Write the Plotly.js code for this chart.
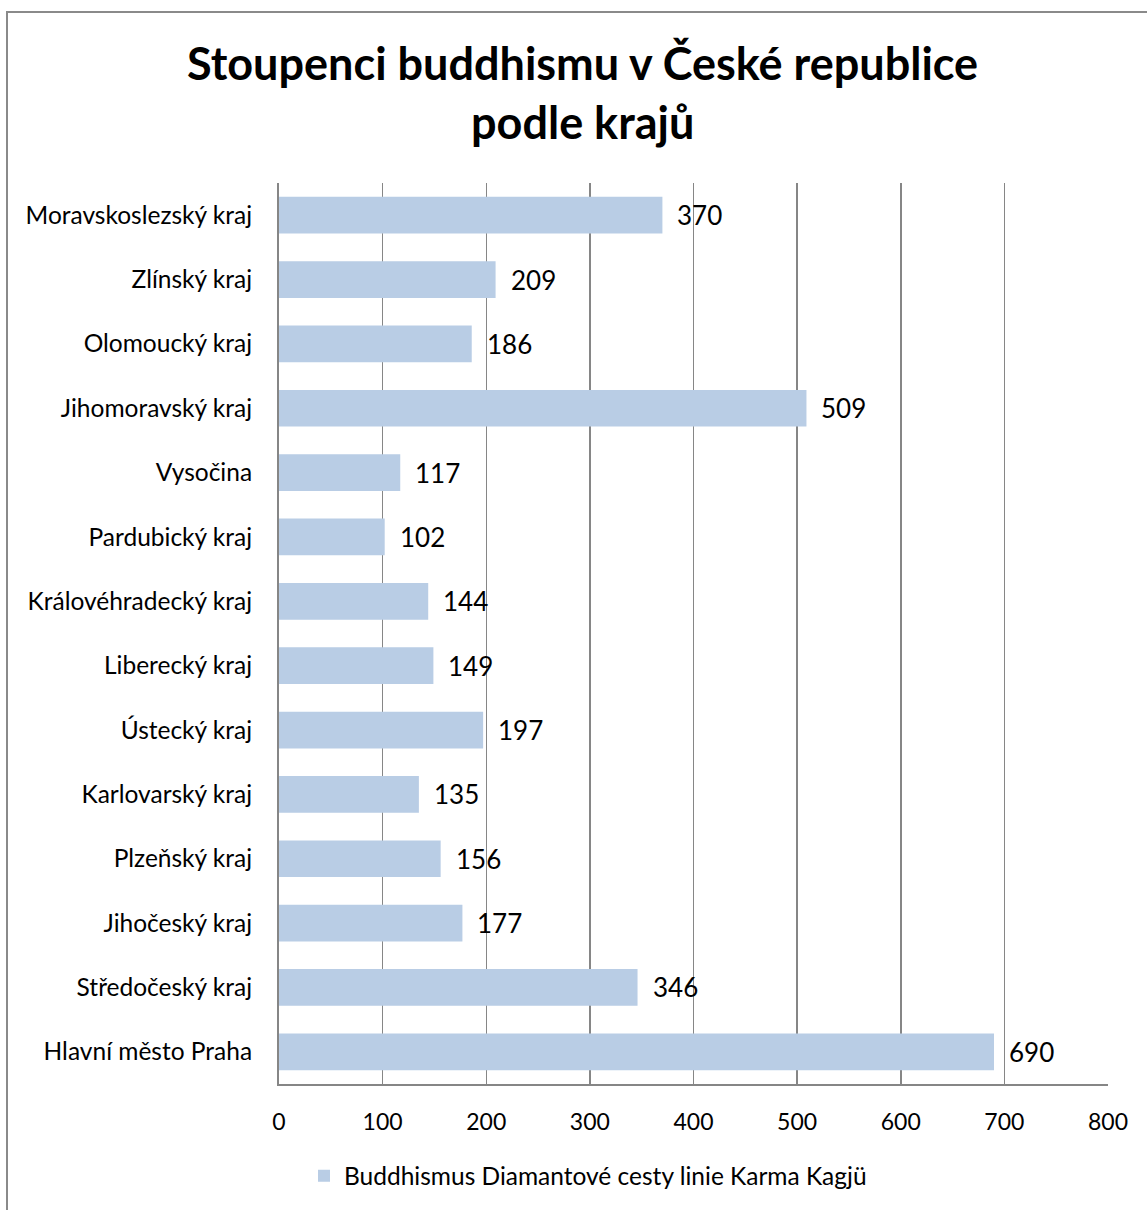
<!DOCTYPE html>
<html>
<head>
<meta charset="utf-8">
<script src="https://cdn.plot.ly/plotly-3.0.1.min.js"></script>
<style>
html,body{margin:0;padding:0;background:#fff;}
#frame{position:absolute;left:6px;top:11px;width:1200px;height:1300px;border-left:2px solid #8a8a8a;border-top:2px solid #8a8a8a;}
#chart{position:absolute;left:0;top:0;width:1147px;height:1210px;}
</style>
</head>
<body>
<div id="frame"></div>
<div id="chart"></div>
<script>
const regions = ["Moravskoslezský kraj","Zlínský kraj","Olomoucký kraj","Jihomoravský kraj","Vysočina","Pardubický kraj","Královéhradecký kraj","Liberecký kraj","Ústecký kraj","Karlovarský kraj","Plzeňský kraj","Jihočeský kraj","Středočeský kraj","Hlavní město Praha"];
const followers = [370,209,186,509,117,102,144,149,197,135,156,177,346,690];
const seriesName = "Buddhismus Diamantové cesty linie Karma Kagjü";
const titleLines = ["Stoupenci buddhismu v České republice","podle krajů"];
const xTicks = [0,100,200,300,400,500,600,700,800];

const FONT = "Lato, 'Open Sans', sans-serif";

const trace = {
  type: 'bar',
  orientation: 'h',
  y: regions,
  x: followers,
  name: seriesName,
  marker: {color: '#B9CDE5'},
  width: 0.57,
  showlegend: true,
  hoverinfo: 'x+y'
};

const annotations = regions.map((r,i)=>({
  x: followers[i], y: r, xref:'x', yref:'y',
  text: String(followers[i]), showarrow:false,
  xanchor:'left', yanchor:'middle', xshift: 13,
  font:{family:FONT, size:26, color:'#000'}
}));
// title lines (plot area spans pixel 183..1084 => paper y = (1084 - px)/901; x 279..1108)
const titleCenters = [63, 122];
titleLines.forEach((t,i)=>{
  annotations.push({
    x:(582-279)/829, xref:'paper', xanchor:'center',
    y:(1084 - titleCenters[i])/901, yref:'paper', yanchor:'middle',
    text:'<b>'+t+'</b>', showarrow:false,
    font:{family:FONT, size:45, color:'#000'}
  });
});

const layout = {
  width:1147, height:1210,
  paper_bgcolor:'rgba(0,0,0,0)', plot_bgcolor:'rgba(0,0,0,0)',
  margin:{l:279, r:39, t:183, b:126},
  font:{family:FONT, color:'#000'},
  bargap:0.43,
  xaxis:{range:[0,800], tickvals:xTicks, ticktext:xTicks.map(String),
    showgrid:true, gridcolor:'#868686', gridwidth:1.5,
    showline:true, linecolor:'#868686', linewidth:2,
    zeroline:false, ticks:'', ticklabelstandoff:16,
    tickfont:{family:FONT, size:23, color:'#000'}, fixedrange:true},
  yaxis:{autorange:'reversed', type:'category',
    showline:true, linecolor:'#868686', linewidth:2, showgrid:false,
    ticks:'', ticklabelstandoff:20,
    tickfont:{family:FONT, size:24.5, color:'#000'}, fixedrange:true},
  legend:{orientation:'h', x:(588-279)/829, xanchor:'center', y:-0.102, yanchor:'middle',
    font:{family:FONT, size:24.5, color:'#000'}, itemwidth:30},
  annotations: annotations
};

Plotly.newPlot('chart',[trace],layout,{displayModeBar:false, staticPlot:true});
</script>
</body>
</html>
